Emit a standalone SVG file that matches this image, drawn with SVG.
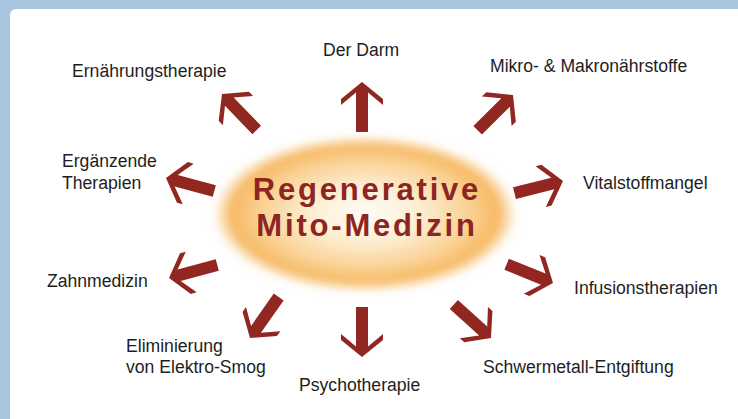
<svg xmlns="http://www.w3.org/2000/svg" width="738" height="419" viewBox="0 0 738 419">
<style>
.lbl{font-family:"Liberation Sans",Arial,sans-serif;font-size:17.6px;fill:#1e1e1e}
.title{font-family:"Liberation Sans",Arial,sans-serif;font-size:31px;font-weight:bold;fill:#8d2522;letter-spacing:2.8px}
.arr{fill:#922621}
</style>
<defs>
<radialGradient id="glow" cx="0.5" cy="0.5" r="0.5">
<stop offset="0" stop-color="#fffdf7"/>
<stop offset="0.35" stop-color="#fdefd4"/>
<stop offset="0.7" stop-color="#fad092"/>
<stop offset="0.88" stop-color="#f6b860"/>
<stop offset="1" stop-color="#f7c47a" stop-opacity="0"/>
</radialGradient>
<filter id="blur" x="-0.2" y="-0.3" width="1.4" height="1.6"><feGaussianBlur stdDeviation="4"/></filter>
<path id="a" d="M0 0 L-17 -21 L-23 -21 L-10.5 -6 L-50 -6 L-50 6 L-10.5 6 L-23 21 L-17 21 Z"/>
</defs>
<rect x="0" y="0" width="738" height="419" fill="#a8c6df"/>
<rect x="10" y="9" width="740" height="420" rx="6" fill="#ffffff"/>
<g id="center">
<ellipse cx="365" cy="214" rx="152" ry="78" fill="url(#glow)" filter="url(#blur)"/>
<text class="title" x="367" y="200" text-anchor="middle">Regenerative</text>
<text class="title" x="367" y="236" text-anchor="middle">Mito-Medizin</text>
</g>
<g id="connectors">
<use href="#a" class="arr" transform="translate(362,82) rotate(-90)"/>
<use href="#a" class="arr" transform="translate(513,95) rotate(-45)"/>
<use href="#a" class="arr" transform="translate(563,181) rotate(-14)"/>
<use href="#a" class="arr" transform="translate(553,283) rotate(22)"/>
<use href="#a" class="arr" transform="translate(491,338) rotate(42)"/>
<use href="#a" class="arr" transform="translate(362,357) rotate(90)"/>
<use href="#a" class="arr" transform="translate(250,338) rotate(125)"/>
<use href="#a" class="arr" transform="translate(169,278) rotate(165)"/>
<use href="#a" class="arr" transform="translate(166,178) rotate(195)"/>
<use href="#a" class="arr" transform="translate(222,94) rotate(226)"/>
</g>
<g id="n-darm"><text class="lbl" x="323" y="56">Der Darm</text></g>
<g id="n-mikro"><text class="lbl" x="490" y="72">Mikro- &amp; Makronährstoffe</text></g>
<g id="n-vital"><text class="lbl" x="583" y="189">Vitalstoffmangel</text></g>
<g id="n-infusion"><text class="lbl" x="574" y="294">Infusionstherapien</text></g>
<g id="n-schwer"><text class="lbl" x="483" y="373">Schwermetall-Entgiftung</text></g>
<g id="n-psycho"><text class="lbl" x="299" y="391">Psychotherapie</text></g>
<g id="n-smog"><text class="lbl" x="126" y="352">Eliminierung</text><text class="lbl" x="126" y="373">von Elektro-Smog</text></g>
<g id="n-zahn"><text class="lbl" x="47" y="287">Zahnmedizin</text></g>
<g id="n-ergaenz"><text class="lbl" x="62" y="167">Ergänzende</text><text class="lbl" x="62" y="189">Therapien</text></g>
<g id="n-ernaehrung"><text class="lbl" x="72" y="77">Ernährungstherapie</text></g>
</svg>
